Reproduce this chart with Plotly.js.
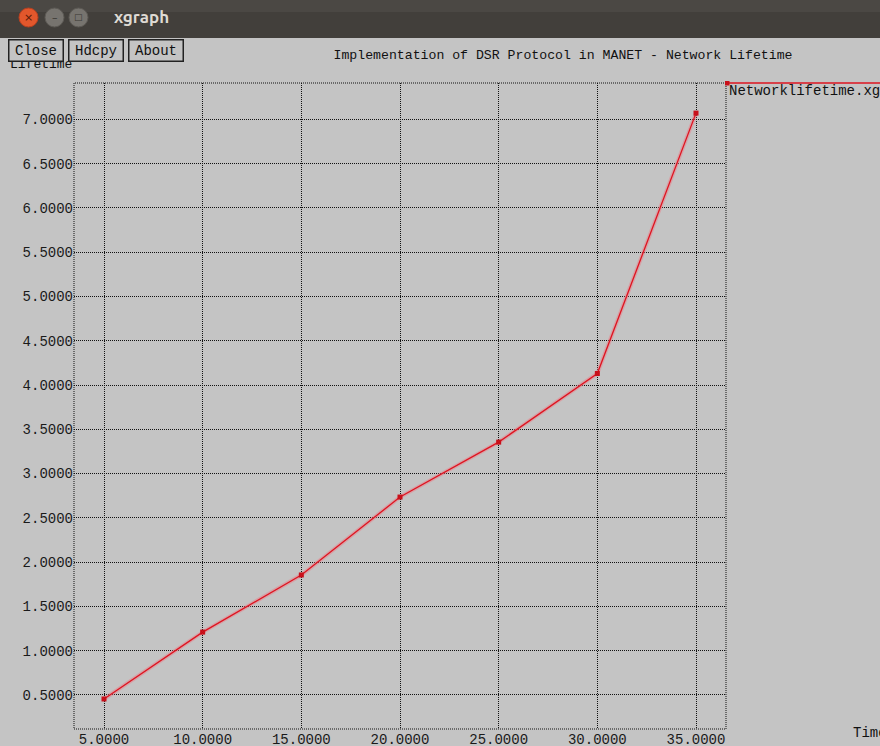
<!DOCTYPE html>
<html>
<head>
<meta charset="utf-8">
<script src="https://cdn.plot.ly/plotly-3.0.1.min.js"></script>
<style>
html,body{margin:0;padding:0;background:#c4c4c4;}
#chart{width:880px;height:746px;}
</style>
</head>
<body>
<div id="chart"></div>
<script>
// ---- data ----
const nodes = [5, 10, 15, 20, 25, 30, 35];
const lifetime = [0.455, 1.21, 1.855, 2.735, 3.355, 4.13, 7.07];
const xTicks = [5, 10, 15, 20, 25, 30, 35];
const xTickText = ["5.0000", "10.0000", "15.0000", "20.0000", "25.0000", "30.0000", "35.0000"];
const yTicks = [0.5, 1.0, 1.5, 2.0, 2.5, 3.0, 3.5, 4.0, 4.5, 5.0, 5.5, 6.0, 6.5, 7.0];
const yTickText = ["0.5000", "1.0000", "1.5000", "2.0000", "2.5000", "3.0000", "3.5000",
                   "4.0000", "4.5000", "5.0000", "5.5000", "6.0000", "6.5000", "7.0000"];
const seriesName = "Networklifetime.xg";
const chartTitle = "Implementation of DSR Protocol in MANET - Network Lifetime";

// ---- geometry helpers (pixel -> paper) ----
const W = 880, H = 746;
const L = 74, R = 726, T = 83, B = 729;
const px = x => (x - L) / (R - L);
const py = y => (B - y) / (B - T);

const mono = "Liberation Mono, DejaVu Sans Mono, monospace";
const bg = "#c4c4c4";
const red = "#de1420";

const halo = {
  x: nodes, y: lifetime, type: "scatter", mode: "lines",
  line: {color: "rgba(240,120,130,0.45)", width: 4},
  showlegend: false, hoverinfo: "skip"
};
const trace = {
  x: nodes, y: lifetime, type: "scatter", mode: "lines+markers",
  name: seriesName,
  line: {color: red, width: 1.3},
  marker: {color: "#c8101a", size: 5, symbol: "square"},
  showlegend: false, hoverinfo: "x+y"
};

const shapes = [
  // window title bar
  {type: "rect", xref: "paper", yref: "paper", x0: px(0), x1: px(W), y0: py(38), y1: py(0),
   fillcolor: "#423f3b", line: {width: 0}, layer: "above"},
  {type: "rect", xref: "paper", yref: "paper", x0: px(0), x1: px(W), y0: py(12), y1: py(0),
   fillcolor: "#4b4844", line: {width: 0}, layer: "above"},
  // close / min / max circles
  {type: "circle", xref: "paper", yref: "paper", x0: px(19), x1: px(38), y0: py(27), y1: py(8),
   fillcolor: "#e2572c", line: {color: "#b84020", width: 1}, layer: "above"},
  {type: "circle", xref: "paper", yref: "paper", x0: px(45), x1: px(64), y0: py(27), y1: py(8),
   fillcolor: "#77746f", line: {color: "#5d5a55", width: 1}, layer: "above"},
  {type: "circle", xref: "paper", yref: "paper", x0: px(69), x1: px(88), y0: py(27), y1: py(8),
   fillcolor: "#77746f", line: {color: "#5d5a55", width: 1}, layer: "above"},
  // plot frame (dotted)
  {type: "rect", xref: "paper", yref: "paper", x0: 0, x1: 1, y0: 0, y1: 1,
   line: {color: "#111", width: 1, dash: "1px,1px"}, layer: "below"},
  // legend line
  {type: "line", xref: "paper", yref: "paper", x0: px(727), x1: px(W + 5), y0: py(83), y1: py(83),
   line: {color: red, width: 1.3}, layer: "above"},
  {type: "rect", xref: "paper", yref: "paper", x0: px(725), x1: px(729.5), y0: py(85.5), y1: py(81),
   fillcolor: "#c8101a", line: {width: 0}, layer: "above"}
];

function note(text, x, y, xa, font, extra) {
  return Object.assign({text: text, xref: "paper", yref: "paper", x: px(x), y: py(y),
    xanchor: xa, yanchor: "middle", showarrow: false, font: font}, extra || {});
}
const txt = {family: mono, size: 13, color: "#111"};
const btnFont = {family: mono, size: 14, color: "#111"};
const btn = {bgcolor: bg, bordercolor: "#222", borderwidth: 1.5, borderpad: 1, width: 51, height: 18};

const annotations = [
  // window chrome text
  note("×", 28.5, 17.5, "center", {family: "DejaVu Sans", size: 11, color: "#5a1a08"}),
  note("–", 54.5, 17.5, "center", {family: "DejaVu Sans", size: 11, color: "#3a3834"}),
  note("□", 78.5, 17.5, "center", {family: "DejaVu Sans", size: 9, color: "#3a3834"}),
  note("<b>xgraph</b>", 112, 17, "left", {family: "Ubuntu, DejaVu Sans, sans-serif", size: 17, color: "#dedad3"}),
  // y-axis title (partly hidden by buttons)
  note("Lifetime", 8, 64, "left", txt),
  // buttons
  note("Close", 8, 50, "left", btnFont, btn),
  note("Hdcpy", 68, 50, "left", btnFont, btn),
  note("About", 128, 50, "left", btnFont, btn),
  // legend label
  note(seriesName, 727, 91, "left", btnFont),
  // x-axis title (clipped)
  note("Time", 851, 733, "left", btnFont)
];

const layout = {
  width: W, height: H,
  margin: {l: L, r: W - R, t: T, b: H - B, pad: 0},
  paper_bgcolor: bg, plot_bgcolor: bg,
  title: {text: chartTitle, x: px(563), xref: "paper", xanchor: "center",
          y: 1 - 54 / H, yanchor: "middle", yref: "container",
          font: {family: mono, size: 13.2, color: "#111"}},
  xaxis: {range: [3.48, 36.52], tickvals: xTicks, ticktext: xTickText,
          showgrid: true, gridcolor: "#111", gridwidth: 1, griddash: "1px,1px",
          zeroline: false, showline: false, ticks: "", fixedrange: true,
          tickfont: {family: mono, size: 14, color: "#1a1a1a"}},
  yaxis: {range: [0.116, 7.41], tickvals: yTicks, ticktext: yTickText,
          showgrid: true, gridcolor: "#111", gridwidth: 1, griddash: "1px,1px",
          zeroline: false, showline: false, ticks: "", fixedrange: true,
          tickfont: {family: mono, size: 14, color: "#1a1a1a"}},
  shapes: shapes,
  annotations: annotations,
  showlegend: false
};

Plotly.newPlot("chart", [halo, trace], layout, {displayModeBar: false, staticPlot: true});
</script>
</body>
</html>
